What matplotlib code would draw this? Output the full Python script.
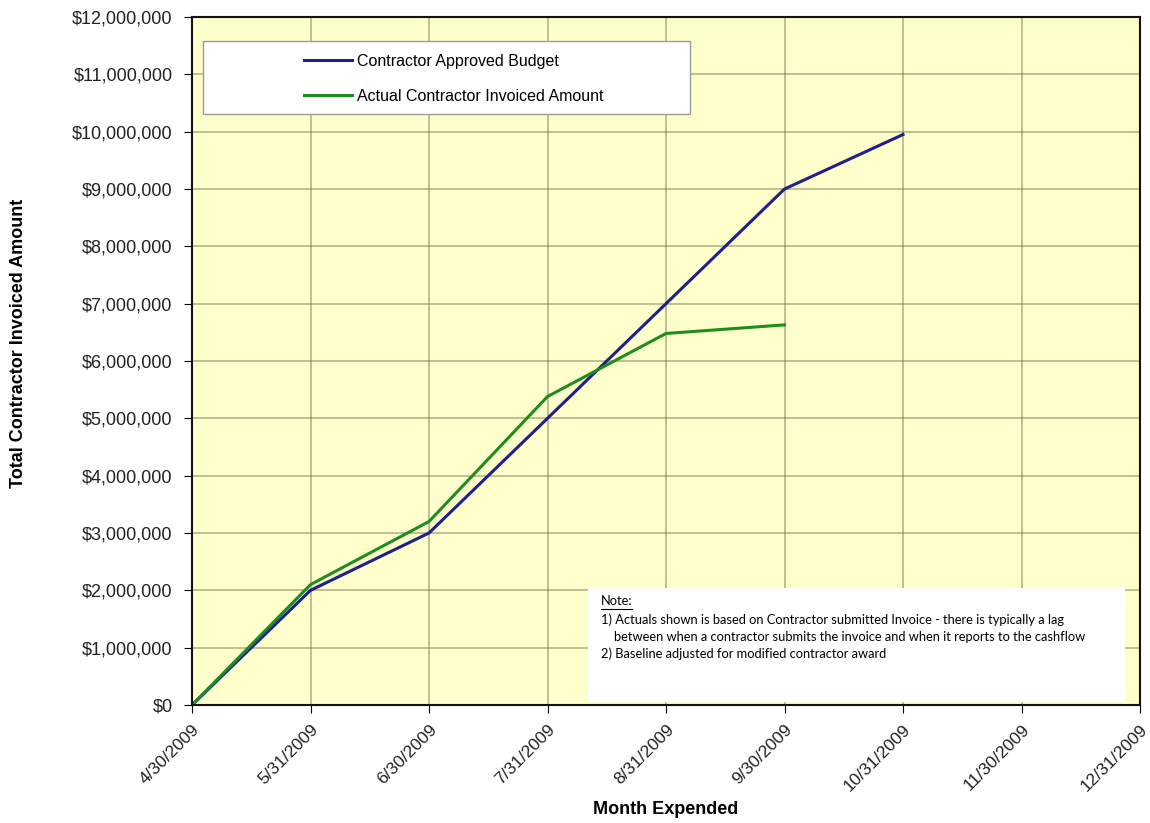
import matplotlib.pyplot as plt
from matplotlib.lines import Line2D
from matplotlib.ticker import FuncFormatter, MultipleLocator

months = ['4/30/2009', '5/31/2009', '6/30/2009', '7/31/2009', '8/31/2009',
          '9/30/2009', '10/31/2009', '11/30/2009', '12/31/2009']
budget = [0, 2_000_000, 3_000_000, 5_000_000, 7_000_000, 9_000_000, 9_950_000]
actual = [0, 2_100_000, 3_200_000, 5_380_000, 6_480_000, 6_630_000]

note_lines = [
    '1) Actuals shown is based on Contractor submitted Invoice - there is typically a lag',
    '    between when a contractor submits the invoice and when it reports to the cashflow',
    '2) Baseline adjusted for modified contractor award',
]

W, H = 1150, 823
plt.rcParams['font.family'] = ['Liberation Sans', 'DejaVu Sans']

fig = plt.figure(figsize=(W / 100, H / 100), dpi=100)
ax = fig.add_axes([192 / W, 1 - 705 / H, 948 / W, 688 / H])
ax.set_facecolor('#FFFFCC')

ax.plot(range(len(budget)), budget, color='#1F1F8F', linewidth=2.2,
        label='Contractor Approved Budget')
ax.plot(range(len(actual)), actual, color='#1E8C1E', linewidth=2.2,
        label='Actual Contractor Invoiced Amount')

ax.set_xlim(0, len(months) - 1)
ax.set_ylim(0, 12_000_000)
ax.set_xticks(range(len(months)))
ax.set_xticklabels(months, rotation=45, ha='right', rotation_mode='anchor',
                   fontsize=12.5, color='#222222')
ax.yaxis.set_major_locator(MultipleLocator(1_000_000))
ax.yaxis.set_major_formatter(FuncFormatter(lambda v, p: f'${v:,.0f}'))
ax.tick_params(axis='y', labelsize=13, labelcolor='#222222', length=6, pad=8)
ax.tick_params(axis='x', length=6, pad=6)
ax.grid(True, color='#6b6b4a', alpha=0.5, linewidth=1.2)
ax.set_axisbelow(True)
for s in ax.spines.values():
    s.set_linewidth(1.5)
    s.set_color('#111111')

ax.set_xlabel('Month Expended', fontsize=13, fontweight='bold', labelpad=5)
ax.set_ylabel('Total Contractor Invoiced Amount', fontsize=13, fontweight='bold')
ax.yaxis.set_label_coords((27 - 192) / 948, (705 - 343) / 688)

# legend box
fig.patches.append(plt.Rectangle((203 / W, 1 - 114 / H), 487 / W, 73 / H,
                                 transform=fig.transFigure, facecolor='white',
                                 edgecolor='#9a9a9a', linewidth=1, zorder=5))
handles = [Line2D([], [], color='#1F1F8F', linewidth=2.2),
           Line2D([], [], color='#1E8C1E', linewidth=2.2)]
leg = fig.legend(handles, ['Contractor Approved Budget',
                           'Actual Contractor Invoiced Amount'],
                 loc='upper left', bbox_to_anchor=(296 / W, 1 - 46 / H),
                 fontsize=11.5, frameon=False, borderpad=0, labelspacing=1.25,
                 handlelength=3.0, handletextpad=0.3)
leg.set_zorder(6)

# note box
fig.patches.append(plt.Rectangle((588 / W, 1 - 702 / H), 537 / W, 114 / H,
                                 transform=fig.transFigure, facecolor='white',
                                 edgecolor='none', zorder=5))
fig.text(601 / W, 1 - 601 / H, 'Note:', fontsize=9.3, family='Lato',
         va='center', zorder=6)
fig.add_artist(Line2D([601 / W, 632 / W], [1 - 609 / H, 1 - 609 / H],
                      transform=fig.transFigure, color='black', linewidth=0.8,
                      zorder=6))
for i, line in enumerate(note_lines):
    fig.text(601 / W, 1 - (620 + i * 17) / H, line, fontsize=9.3,
             family='Lato', va='center', zorder=6)

fig.savefig('out.png', dpi=100)
